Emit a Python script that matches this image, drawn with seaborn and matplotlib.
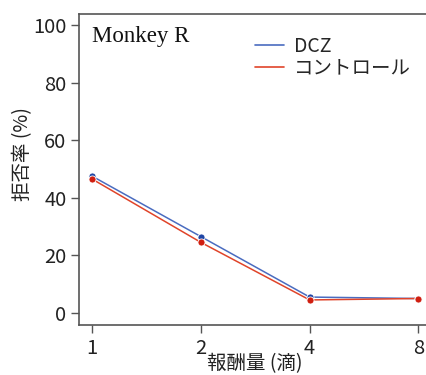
import matplotlib
matplotlib.use("Agg")
import matplotlib.pyplot as plt
import seaborn as sns
import pandas as pd
from matplotlib.lines import Line2D

doses = ["1", "2", "4", "8"]
dcz = [47.5, 26.5, 5.5, 5.0]
control = [46.5, 24.5, 4.5, 5.0]
series_names = ["DCZ", "コントロール"]

sns.set_style("white")
plt.rcParams['font.family'] = ['Noto Sans CJK JP', 'DejaVu Sans']

df = pd.DataFrame({
    "dose": doses * 2,
    "rate": dcz + control,
    "group": [series_names[0]] * 4 + [series_names[1]] * 4,
})
df["x"] = list(range(4)) * 2

fig = plt.figure(figsize=(4.27, 3.75), dpi=100)
ax = fig.add_axes([79/427, 50/375, 1 - 79/427 + 0.01, 311/375])

palette = {"DCZ": "#4a6cc0", "コントロール": "#e0442a"}
sns.lineplot(data=df, x="x", y="rate", hue="group", palette=palette, ax=ax,
             linewidth=1.1, legend=False)
mk = {"DCZ": "#1f45a5", "コントロール": "#d01e10"}
for g in series_names:
    sub = df[df.group == g]
    ax.scatter(sub["x"], sub["rate"], color=mk[g], s=26, edgecolor="white",
               linewidth=0.6, zorder=5)

ax.set_xlim(-0.12, 3.118)
ax.set_ylim(-4.2, 103.8)
ax.set_xticks(range(4))
ax.set_xticklabels(doses)
ax.set_yticks([0, 20, 40, 60, 80, 100])
ax.tick_params(axis="both", bottom=True, left=True, labelsize=14.5, length=6,
               width=1, color="#555555", direction="out", pad=3,
               labelcolor="#222222")
for s in ["left", "bottom", "top"]:
    ax.spines[s].set_color("#555555")
    ax.spines[s].set_linewidth(1.2)
ax.spines["right"].set_visible(False)

ax.set_xlabel("報酬量 (滴)", fontsize=14, color="#222222", labelpad=-4)
ax.set_ylabel("拒否率 (%)", fontsize=14, color="#222222")
ax.yaxis.set_label_coords(-0.13, 0.55)

ax.text(0.037, 0.962, "Monkey R", transform=ax.transAxes, fontsize=16.5,
        family="Liberation Serif", va="top", ha="left", color="#111111")

handles = [Line2D([], [], color=palette[g], lw=1.2) for g in series_names]
ax.legend(handles, series_names, loc="upper left", bbox_to_anchor=(0.5, 0.93),
          frameon=False, fontsize=14, handlelength=1.5, handletextpad=0.5,
          labelspacing=0.05, borderaxespad=0, borderpad=0)

fig.savefig("out.png", dpi=100)
